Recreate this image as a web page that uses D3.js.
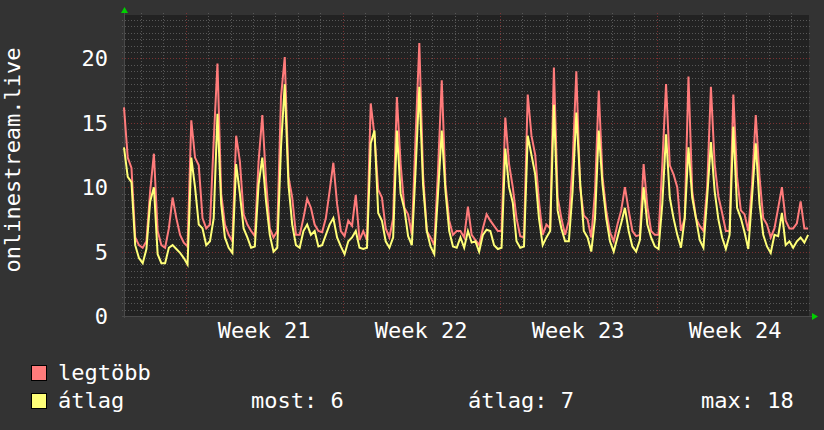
<!DOCTYPE html>
<html>
<head>
<meta charset="utf-8">
<script src="https://cdn.jsdelivr.net/npm/d3@7"></script>
<style>
  html, body { margin: 0; padding: 0; background: #333333; }
  svg { display: block; font-family: "DejaVu Sans Mono", monospace; }
</style>
</head>
<body>
<svg id="chart" width="824" height="430"></svg>
<script>
// --- adatok (4 órás minták) ---
const seriesNames = ["legtöbb", "átlag"];
const seriesColors = ["#ff7b7b", "#ffff78"];

const legtobb = [
  16.2,12.3,11.5,6.1,5.5,5.3,5.8,9.7,12.6,6.6,5.5,5.3,6.8,9.2,7.6,6.3,5.7,5.4,15.2,12.3,
  11.7,7.6,6.8,7.1,13.6,19.6,9.5,7.1,6.3,5.8,14.0,12.0,7.9,7.1,6.6,6.2,12.0,15.6,10.5,6.8,
  6.1,6.6,17.0,20.1,10.8,9.2,6.3,6.3,7.6,9.1,8.4,7.1,6.6,6.5,7.6,9.7,11.9,8.7,6.6,6.2,
  7.4,7.0,9.4,5.9,6.6,5.9,16.5,14.0,9.8,9.2,6.8,6.1,7.6,17.0,11.8,8.4,7.9,6.3,13.9,21.2,
  11.0,6.6,6.1,5.5,11.3,18.3,10.2,7.4,6.3,6.6,6.6,6.1,8.5,6.3,5.9,5.5,6.8,7.9,7.4,7.0,
  6.6,6.6,15.4,11.8,10.0,7.6,6.2,6.1,17.2,14.0,12.5,8.9,6.3,7.1,6.8,19.3,9.2,7.6,6.3,7.4,
  11.8,19.0,10.0,7.8,7.5,6.1,9.7,17.5,10.8,8.2,6.5,5.8,7.1,8.2,10.0,8.2,6.6,6.2,6.3,11.8,
  8.5,6.6,6.3,6.3,11.8,18.0,11.7,11.0,10.0,6.6,7.6,18.6,9.7,7.6,7.0,6.6,10.0,17.8,11.8,9.3,
  8.0,6.6,6.6,17.2,10.8,8.2,7.9,6.6,10.2,15.6,10.8,7.6,7.1,6.1,6.8,8.4,10.0,7.4,6.8,6.8,
  7.2,8.9,6.8,6.8
];

const atlag = [
  13.1,10.8,10.4,5.5,4.5,4.1,5.2,8.9,10.0,4.8,4.1,4.1,5.3,5.5,5.2,4.9,4.5,4.0,12.3,10.0,
  7.1,6.8,5.5,5.8,7.6,15.7,8.7,6.1,5.3,4.9,11.8,9.5,6.8,6.1,5.3,5.4,10.2,12.3,8.9,6.3,
  5.0,5.3,13.1,18.0,10.2,7.1,5.5,5.3,6.6,7.1,6.3,6.6,5.4,5.5,6.3,7.1,7.6,6.1,5.4,4.8,
  5.8,6.1,6.6,5.3,5.2,5.3,13.4,14.4,8.0,7.4,5.8,5.3,6.1,14.4,9.5,8.3,6.2,5.5,11.3,17.8,
  10.2,6.6,5.4,4.8,9.5,14.4,9.7,6.6,5.4,5.3,6.1,5.3,6.6,5.7,5.8,5.0,6.3,6.7,6.6,5.5,
  5.2,5.3,13.0,10.0,8.8,5.8,5.3,5.4,14.0,12.5,11.0,7.6,5.5,6.1,6.6,16.4,8.2,6.8,5.8,5.8,
  9.7,15.8,10.5,6.6,6.1,5.0,7.6,14.4,10.2,7.6,5.8,5.0,6.1,7.2,8.4,6.6,5.4,5.0,5.9,10.0,
  7.1,6.1,5.4,5.2,8.7,14.1,9.2,7.6,6.3,5.3,7.6,13.1,9.2,7.6,5.9,5.3,9.2,13.5,9.7,7.5,
  6.1,5.2,6.3,14.7,8.4,7.6,6.5,5.2,9.2,13.4,8.7,6.3,5.4,4.9,6.3,6.2,8.0,5.5,5.8,5.3,
  5.8,6.1,5.7,6.3
];

const statLabels = ["most: 6", "átlag: 7", "max: 18"];
const yTicks = [0, 5, 10, 15, 20];
const yTitle = "onlinestream.live";
const startTime = Date.UTC(2024, 4, 17, 6, 0);
const stepHours = 4;
const spanDays = 30.54;

// --- elrendezés ---
const W = 824, H = 430;
const P = { left: 124, right: 809, top: 15, bottom: 316 };
const yMax = 23.37;
const DAY = 86400000;

const svg = d3.select("#chart");
svg.append("rect").attr("width", W).attr("height", H).attr("fill", "#333333");

const x = d3.scaleUtc()
  .domain([new Date(startTime), new Date(startTime + spanDays * DAY)])
  .range([P.left, P.right]);
const y = d3.scaleLinear().domain([0, yMax]).range([P.bottom, P.top]);

svg.append("rect")
  .attr("x", P.left).attr("y", P.top)
  .attr("width", P.right - P.left).attr("height", P.bottom - P.top)
  .attr("fill", "#222222");

const grid = svg.append("g").attr("shape-rendering", "crispEdges");
const minorCol = "#575757", majorCol = "#7a3232";

// vízszintes rács
const minorY = d3.range(0.5, yMax, 0.5).filter(v => v % 5 !== 0);
grid.selectAll("line.hmin").data(minorY).enter().append("line")
  .attr("x1", P.left - 2).attr("x2", P.right + 2)
  .attr("y1", d => Math.round(y(d)) + 0.5).attr("y2", d => Math.round(y(d)) + 0.5)
  .attr("stroke", minorCol).attr("stroke-dasharray", "1,2");

// függőleges rács (napok)
const [t0, t1] = x.domain();
const days = d3.utcDay.range(t0, t1);
const mondays = d3.utcMonday.range(t0, t1);
grid.selectAll("line.vmin").data(days.filter(d => d.getUTCDay() !== 1)).enter().append("line")
  .attr("x1", d => Math.round(x(d)) + 0.5).attr("x2", d => Math.round(x(d)) + 0.5)
  .attr("y1", P.top - 2).attr("y2", P.bottom + 2)
  .attr("stroke", minorCol).attr("stroke-dasharray", "1,2");

// fő rács
grid.selectAll("line.hmaj").data(yTicks.filter(v => v > 0)).enter().append("line")
  .attr("x1", P.left - 2).attr("x2", P.right + 2)
  .attr("y1", d => Math.round(y(d)) + 0.5).attr("y2", d => Math.round(y(d)) + 0.5)
  .attr("stroke", majorCol).attr("stroke-dasharray", "1,2");
grid.selectAll("line.vmaj").data(mondays).enter().append("line")
  .attr("x1", d => Math.round(x(d)) + 0.5).attr("x2", d => Math.round(x(d)) + 0.5)
  .attr("y1", P.top - 2).attr("y2", P.bottom + 2)
  .attr("stroke", majorCol).attr("stroke-dasharray", "1,2");

// tengelyek
grid.append("line").attr("x1", P.left - 2).attr("x2", P.right + 4)
  .attr("y1", P.bottom + 0.5).attr("y2", P.bottom + 0.5).attr("stroke", "#4a4a4a");
grid.append("line").attr("x1", P.left + 0.5).attr("x2", P.left + 0.5)
  .attr("y1", P.top - 4).attr("y2", P.bottom + 2).attr("stroke", "#4a4a4a");

svg.append("path")
  .attr("d", `M${P.left - 3},${P.top - 2}L${P.left + 4},${P.top - 2}L${P.left + 0.5},${P.top - 8}Z`)
  .attr("fill", "#00d000");
svg.append("path")
  .attr("d", `M${P.right + 3},${P.bottom - 3}L${P.right + 3},${P.bottom + 4}L${P.right + 9},${P.bottom + 0.5}Z`)
  .attr("fill", "#00d000");

// vonalak
const timeOf = i => new Date(startTime + i * stepHours * 3600000);
const line = d3.line().x((d, i) => x(timeOf(i))).y(d => y(d));
[legtobb, atlag].forEach((s, k) => {
  svg.append("path").datum(s)
    .attr("d", line)
    .attr("fill", "none")
    .attr("stroke", seriesColors[k])
    .attr("stroke-width", 2)
    .attr("stroke-linejoin", "miter");
});

// feliratok
const txt = svg.append("g").attr("fill", "#ffffff").style("font-size", "22px");

txt.selectAll("text.ytick").data(yTicks).enter().append("text")
  .attr("x", 108).attr("y", d => y(d))
  .attr("dy", "0.36em")
  .attr("text-anchor", "end")
  .text(d => d);

const fmtWeek = d3.utcFormat("%V");
txt.selectAll("text.week")
  .data(mondays.filter(m => {
    const c = +m + 3.5 * DAY;
    return c > +t0 && c < +t1;
  }))
  .enter().append("text")
  .attr("x", d => x(new Date(+d + 3.5 * DAY)))
  .attr("y", 338)
  .attr("text-anchor", "middle")
  .text(d => "Week " + fmtWeek(d));

txt.append("text")
  .attr("transform", "translate(20,160) rotate(-90)")
  .attr("text-anchor", "middle")
  .text(yTitle);

// jelmagyarázat
const legRows = [380, 408];
seriesNames.forEach((name, k) => {
  svg.append("rect")
    .attr("x", 31.5).attr("y", legRows[k] - 14.5)
    .attr("width", 15).attr("height", 15)
    .attr("fill", seriesColors[k])
    .attr("stroke", "#000000").attr("stroke-width", 1);
  txt.append("text").attr("x", 58).attr("y", legRows[k]).text(name);
});
const statX = [251, 468, 701];
statLabels.forEach((s, k) => {
  txt.append("text").attr("x", statX[k]).attr("y", legRows[1]).text(s);
});
</script>
</body>
</html>
